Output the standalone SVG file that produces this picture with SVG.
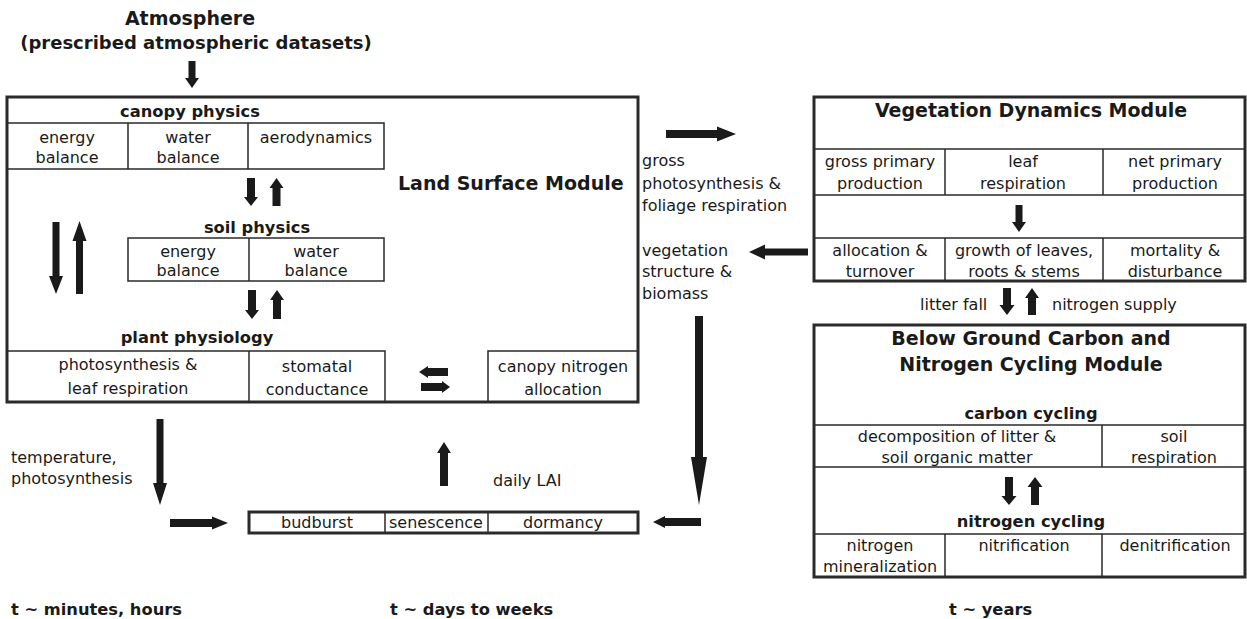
<svg xmlns="http://www.w3.org/2000/svg" width="1247" height="619" viewBox="0 0 1247 619">
<style>
text{font-family:"DejaVu Sans","Noto Sans",sans-serif;fill:#1a1a1a}
.r{font-size:16px}
.b{font-size:16.3px;font-weight:bold}
.t{font-size:19px;font-weight:bold}
.c{text-anchor:middle}
.box{fill:none;stroke:#2a2a2a;stroke-width:3}
.ln{fill:none;stroke:#2a2a2a;stroke-width:1.5}
.arr{fill:#1a1a1a;stroke:none}
</style>
<rect width="1247" height="619" fill="#fff"/>

<g id="atmosphere">
<text class="t c" x="190" y="25">Atmosphere</text>
<text class="t c" x="196" y="49" style="font-size:18px">(prescribed atmospheric datasets)</text>
</g>

<g id="land-surface-module">
<rect class="box" x="7" y="97" width="631" height="305"/>
<text class="t" x="398" y="190">Land Surface Module</text>
<g id="canopy-physics">
<text class="b c" x="190" y="117">canopy physics</text>
<path class="ln" d="M7 123H384V169H7M128 123V169M248 123V169"/>
<text class="r c" x="67" y="143">energy</text>
<text class="r c" x="67" y="163">balance</text>
<text class="r c" x="188" y="143">water</text>
<text class="r c" x="188" y="163">balance</text>
<text class="r c" x="316" y="143">aerodynamics</text>
</g>
<g id="soil-physics">
<text class="b c" x="257" y="233">soil physics</text>
<rect class="ln" x="128" y="238" width="256" height="43"/>
<path class="ln" d="M249 238V281"/>
<text class="r c" x="188" y="257">energy</text>
<text class="r c" x="188" y="276">balance</text>
<text class="r c" x="316" y="257">water</text>
<text class="r c" x="316" y="276">balance</text>
</g>
<g id="plant-physiology">
<text class="b c" x="197" y="343">plant physiology</text>
<path class="ln" d="M7 351H385V402M249 351V402M488 402V351H638"/>
<text class="r c" x="128" y="370">photosynthesis &amp;</text>
<text class="r c" x="128" y="394">leaf respiration</text>
<text class="r c" x="317" y="372">stomatal</text>
<text class="r c" x="317" y="395">conductance</text>
<text class="r c" x="563" y="372">canopy nitrogen</text>
<text class="r c" x="563" y="395">allocation</text>
</g>
</g>

<g id="phenology">
<rect class="box" x="249" y="512" width="389" height="21"/>
<path class="ln" d="M385 512V533M488 512V533"/>
<text class="r c" x="317" y="528">budburst</text>
<text class="r c" x="436" y="528">senescence</text>
<text class="r c" x="563" y="528">dormancy</text>
</g>

<g id="vegetation-dynamics-module">
<rect class="box" x="814" y="97" width="431" height="184"/>
<text class="t c" x="1031" y="117">Vegetation Dynamics Module</text>
<path class="ln" d="M814 149H1245M814 195H1245M814 238H1245M945 149V195M1103 149V195M945 238V281M1103 238V281"/>
<text class="r c" x="880" y="167">gross primary</text>
<text class="r c" x="880" y="189">production</text>
<text class="r c" x="1023" y="167">leaf</text>
<text class="r c" x="1023" y="189">respiration</text>
<text class="r c" x="1175" y="167">net primary</text>
<text class="r c" x="1175" y="189">production</text>
<text class="r c" x="880" y="256">allocation &amp;</text>
<text class="r c" x="880" y="277">turnover</text>
<text class="r c" x="1024" y="256">growth of leaves,</text>
<text class="r c" x="1024" y="277">roots &amp; stems</text>
<text class="r c" x="1175" y="256">mortality &amp;</text>
<text class="r c" x="1175" y="277">disturbance</text>
</g>

<g id="below-ground-module">
<rect class="box" x="814" y="325" width="431" height="252"/>
<text class="t c" x="1031" y="345">Below Ground Carbon and</text>
<text class="t c" x="1031" y="371">Nitrogen Cycling Module</text>
<text class="b c" x="1031" y="419">carbon cycling</text>
<path class="ln" d="M814 425H1245M814 467H1245M1102 425V467M814 534H1245M945 534V577M1102 534V577"/>
<text class="r c" x="957" y="442">decomposition of litter &amp;</text>
<text class="r c" x="957" y="463">soil organic matter</text>
<text class="r c" x="1174" y="442">soil</text>
<text class="r c" x="1174" y="463">respiration</text>
<text class="b c" x="1031" y="527">nitrogen cycling</text>
<text class="r c" x="880" y="551">nitrogen</text>
<text class="r c" x="880" y="572">mineralization</text>
<text class="r c" x="1024" y="551">nitrification</text>
<text class="r c" x="1175" y="551">denitrification</text>
</g>

<g id="labels">
<text class="r" x="642" y="166">gross</text>
<text class="r" x="642" y="189">photosynthesis &amp;</text>
<text class="r" x="642" y="211">foliage respiration</text>
<text class="r" x="642" y="256">vegetation</text>
<text class="r" x="642" y="277">structure &amp;</text>
<text class="r" x="642" y="299">biomass</text>
<text class="r" x="11" y="463">temperature,</text>
<text class="r" x="11" y="484">photosynthesis</text>
<text class="r" x="493" y="486">daily LAI</text>
<text class="r" x="920" y="310">litter fall</text>
<text class="r" x="1052" y="310">nitrogen supply</text>
<text class="b" x="11" y="615">t ~ minutes, hours</text>
<text class="b" x="390" y="615">t ~ days to weeks</text>
<text class="b" x="949" y="615">t ~ years</text>
</g>

<g id="connectors" class="arr">
<polygon points="188.5,61 195.5,61 195.5,78 199,78 192,88 185,78 188.5,78"/>
<polygon points="247,178 255,178 255,197 258,197 251,206 244,197 247,197"/>
<polygon points="272.5,206 280.5,206 280.5,188 283.5,188 276.5,178 269.5,188 272.5,188"/>
<polygon points="248,290 256,290 256,310 259,310 252,319 245,310 248,310"/>
<polygon points="273,319 281,319 281,300 284,300 277,290 270,300 273,300"/>
<polygon points="52.5,222 59.5,222 59.5,276 63,276 56,294 49,276 52.5,276"/>
<polygon points="76,294 83,294 83,241 86.5,241 79.5,221 72.5,241 76,241"/>
<polygon points="448,368 448,376 428,376 428,378 419,372 428,366 428,368"/>
<polygon points="421,383 421,391 442,391 442,393 450,387 442,381 442,383"/>
<polygon points="156.5,419 163.5,419 163.5,483 167,483 160,505 153,483 156.5,483"/>
<polygon points="170,519 212,519 212,516.5 228,523 212,529.5 212,527 170,527"/>
<polygon points="440,486 448,486 448,453 451,453 444,442 437,453 440,453"/>
<polygon points="701,518 701,526 665,526 665,528 653,522 665,516 665,518"/>
<polygon points="695,316 703,316 703,457 707,457 699,505 691,457 695,457"/>
<polygon points="666,130 717,130 717,126.5 736,134 717,141.5 717,138 666,138"/>
<polygon points="808,248.5 808,255.5 765,255.5 765,259.5 749,252 765,244.5 765,248.5"/>
<polygon points="1015.5,205 1022.5,205 1022.5,222 1026,222 1019,232 1012,222 1015.5,222"/>
<polygon points="1003,288 1011,288 1011,305 1014.5,305 1007,315 999.5,305 1003,305"/>
<polygon points="1028,315 1036,315 1036,298 1039,298 1032,288 1025,298 1028,298"/>
<polygon points="1005,477 1013,477 1013,496 1016.5,496 1009,505 1001.5,496 1005,496"/>
<polygon points="1031,505 1039,505 1039,487 1042.5,487 1035,477 1027.5,487 1031,487"/>
</g>
</svg>
